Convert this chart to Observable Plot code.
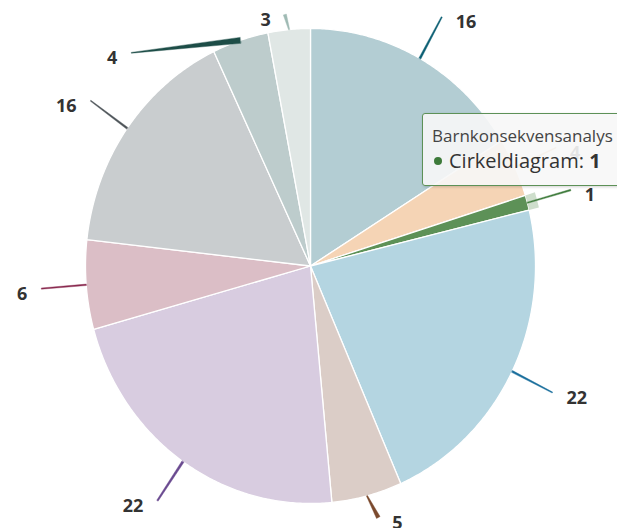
<!DOCTYPE html>
<html>
<head>
<meta charset="utf-8">
<script src="https://cdn.jsdelivr.net/npm/d3@7"></script>
<script src="https://cdn.jsdelivr.net/npm/@observablehq/plot@0.6"></script>
<style>
  html, body { margin: 0; padding: 0; background: #fff; overflow: hidden; }
  #wrap { position: relative; width: 617px; height: 528px; overflow: hidden; font-family: "Open Sans", sans-serif; }
  #wrap svg { position: absolute; left: 0; top: 0; }
  .tip { position: absolute; left: 422px; top: 113px; width: 240px; height: 73px; box-sizing: border-box;
         background: rgba(247,247,247,0.9); border: 1px solid #5d9157; border-radius: 3px;
         box-shadow: 1px 1px 3px rgba(0,0,0,0.18); padding: 12px 0 0 9px; white-space: nowrap; }
  .tip .h { font-size: 17px; line-height: 20px; color: #444; }
  .tip .b { font-size: 20px; line-height: 24px; color: #333; margin-top: 3px; }
  .tip .dot { display: inline-block; width: 8px; height: 8px; border-radius: 50%; margin: 0 7px 3px 2px; vertical-align: middle; }
</style>
</head>
<body>
<div id="wrap"></div>
<script>
// ---- data ----
const categories = ["Kategori A", "Kategori B", "Barnkonsekvensanalys", "Kategori D", "Kategori E",
                    "Kategori F", "Kategori G", "Kategori H", "Kategori I", "Kategori J"];
const values = [16, 4, 1, 22, 5, 22, 6, 16, 4, 3];
const seriesName = "Cirkeldiagram";
const hoveredIndex = 2;
const sliceColors = ["#b3cdd3", "#f5d4b5", "#5d9157", "#b4d5e1", "#dbcdc7",
                     "#d8cce0", "#dbbec6", "#c9cdcf", "#bdcccc", "#e0e7e5"];
const connectorColors = ["#0c5f73", "#e3a468", "#3d7a3a", "#1a6e9c", "#7b4a2e",
                         "#6a4a90", "#8a2c50", "#4d5358", "#1d4d47", "#9fbab4"];

// ---- layout ----
const W = 617, H = 528;
const cx = 310, cy = 265.5, rx = 225, ry = 237.5;
const labelRadius = 1.2;
const labelNudgeDeg = [0, 0, 0, 0, 0, 0, 0, 0, -23.4, 0];
const connectorWidths = [[2.2, 1.2], [1.6, 1], [1.2, 1.6], [2, 1], [1.2, 4],
                         [2.4, 1.6], [1.4, 1.2], [2, 1], [6, 0.8], [1.2, 3.2]];
const yClamp = [14, 517];

const pt = (a, r) => ({x: cx + rx * r * Math.sin(a), y: cy - ry * r * Math.cos(a)});

const arcs = d3.pie().sort(null).value(d => d)(values);

function slicePoints(a0, a1, r0, r1) {
  const n = Math.max(2, Math.ceil((a1 - a0) / (Math.PI / 360)));
  const outer = d3.range(n + 1).map(i => pt(a0 + (a1 - a0) * i / n, r1));
  if (r0 === 0) return [pt(0, 0), ...outer];
  const inner = d3.range(n + 1).map(i => pt(a1 - (a1 - a0) * i / n, r0));
  return [...outer, ...inner];
}

const marks = [];
arcs.forEach((a, i) => {
  marks.push(Plot.line(slicePoints(a.startAngle, a.endAngle, 0, 1), {
    x: "x", y: "y", fill: sliceColors[i], stroke: "#ffffff", strokeWidth: 1.3,
    strokeLinejoin: "round", curve: "linear-closed"
  }));
});

// hover halo
{
  const a = arcs[hoveredIndex];
  marks.push(Plot.line(slicePoints(a.startAngle, a.endAngle, 1, 1 + 10 / rx), {
    x: "x", y: "y", fill: sliceColors[hoveredIndex], fillOpacity: 0.3, stroke: "none", curve: "linear-closed"
  }));
}

const labels = [];
arcs.forEach((a, i) => {
  const mid = (a.startAngle + a.endAngle) / 2;
  const s = pt(mid, 1);
  const e = pt(mid + labelNudgeDeg[i] * Math.PI / 180, labelRadius);
  e.y = Math.max(yClamp[0], Math.min(yClamp[1], e.y));
  const dx = e.x - s.x, dy = e.y - s.y, len = Math.hypot(dx, dy);
  const nx = -dy / len, ny = dx / len;
  const [w0, w1] = connectorWidths[i];
  const poly = [
    {x: s.x + nx * w0 / 2, y: s.y + ny * w0 / 2},
    {x: e.x + nx * w1 / 2, y: e.y + ny * w1 / 2},
    {x: e.x - nx * w1 / 2, y: e.y - ny * w1 / 2},
    {x: s.x - nx * w0 / 2, y: s.y - ny * w0 / 2}
  ];
  marks.push(Plot.line(poly, {x: "x", y: "y", fill: connectorColors[i], stroke: connectorColors[i],
                              strokeWidth: 0.4, curve: "linear-closed"}));
  const right = Math.sin(mid + labelNudgeDeg[i] * Math.PI / 180) >= 0;
  labels.push({x: e.x + (right ? 14 : -14), y: e.y + 5.5, text: String(values[i]), right});
});

marks.push(Plot.text(labels.filter(d => d.right), {x: "x", y: "y", text: "text", textAnchor: "start",
  fontSize: 18, fontWeight: "bold", fill: "#333333"}));
marks.push(Plot.text(labels.filter(d => !d.right), {x: "x", y: "y", text: "text", textAnchor: "end",
  fontSize: 18, fontWeight: "bold", fill: "#333333"}));

const chart = Plot.plot({
  width: W, height: H, margin: 0,
  x: {domain: [0, W], range: [0, W], axis: null},
  y: {domain: [0, H], range: [0, H], axis: null},
  style: {fontFamily: "'Open Sans', sans-serif", background: "transparent", overflow: "hidden"},
  marks
});

const wrap = document.getElementById("wrap");
wrap.appendChild(chart);

// tooltip for hovered slice
const tip = document.createElement("div");
tip.className = "tip";
const h = document.createElement("div");
h.className = "h";
h.textContent = categories[hoveredIndex];
const b = document.createElement("div");
b.className = "b";
const dot = document.createElement("span");
dot.className = "dot";
dot.style.background = connectorColors[hoveredIndex];
b.appendChild(dot);
b.appendChild(document.createTextNode(seriesName + ": "));
const strong = document.createElement("b");
strong.textContent = String(values[hoveredIndex]);
b.appendChild(strong);
tip.appendChild(h);
tip.appendChild(b);
wrap.appendChild(tip);
</script>
</body>
</html>
